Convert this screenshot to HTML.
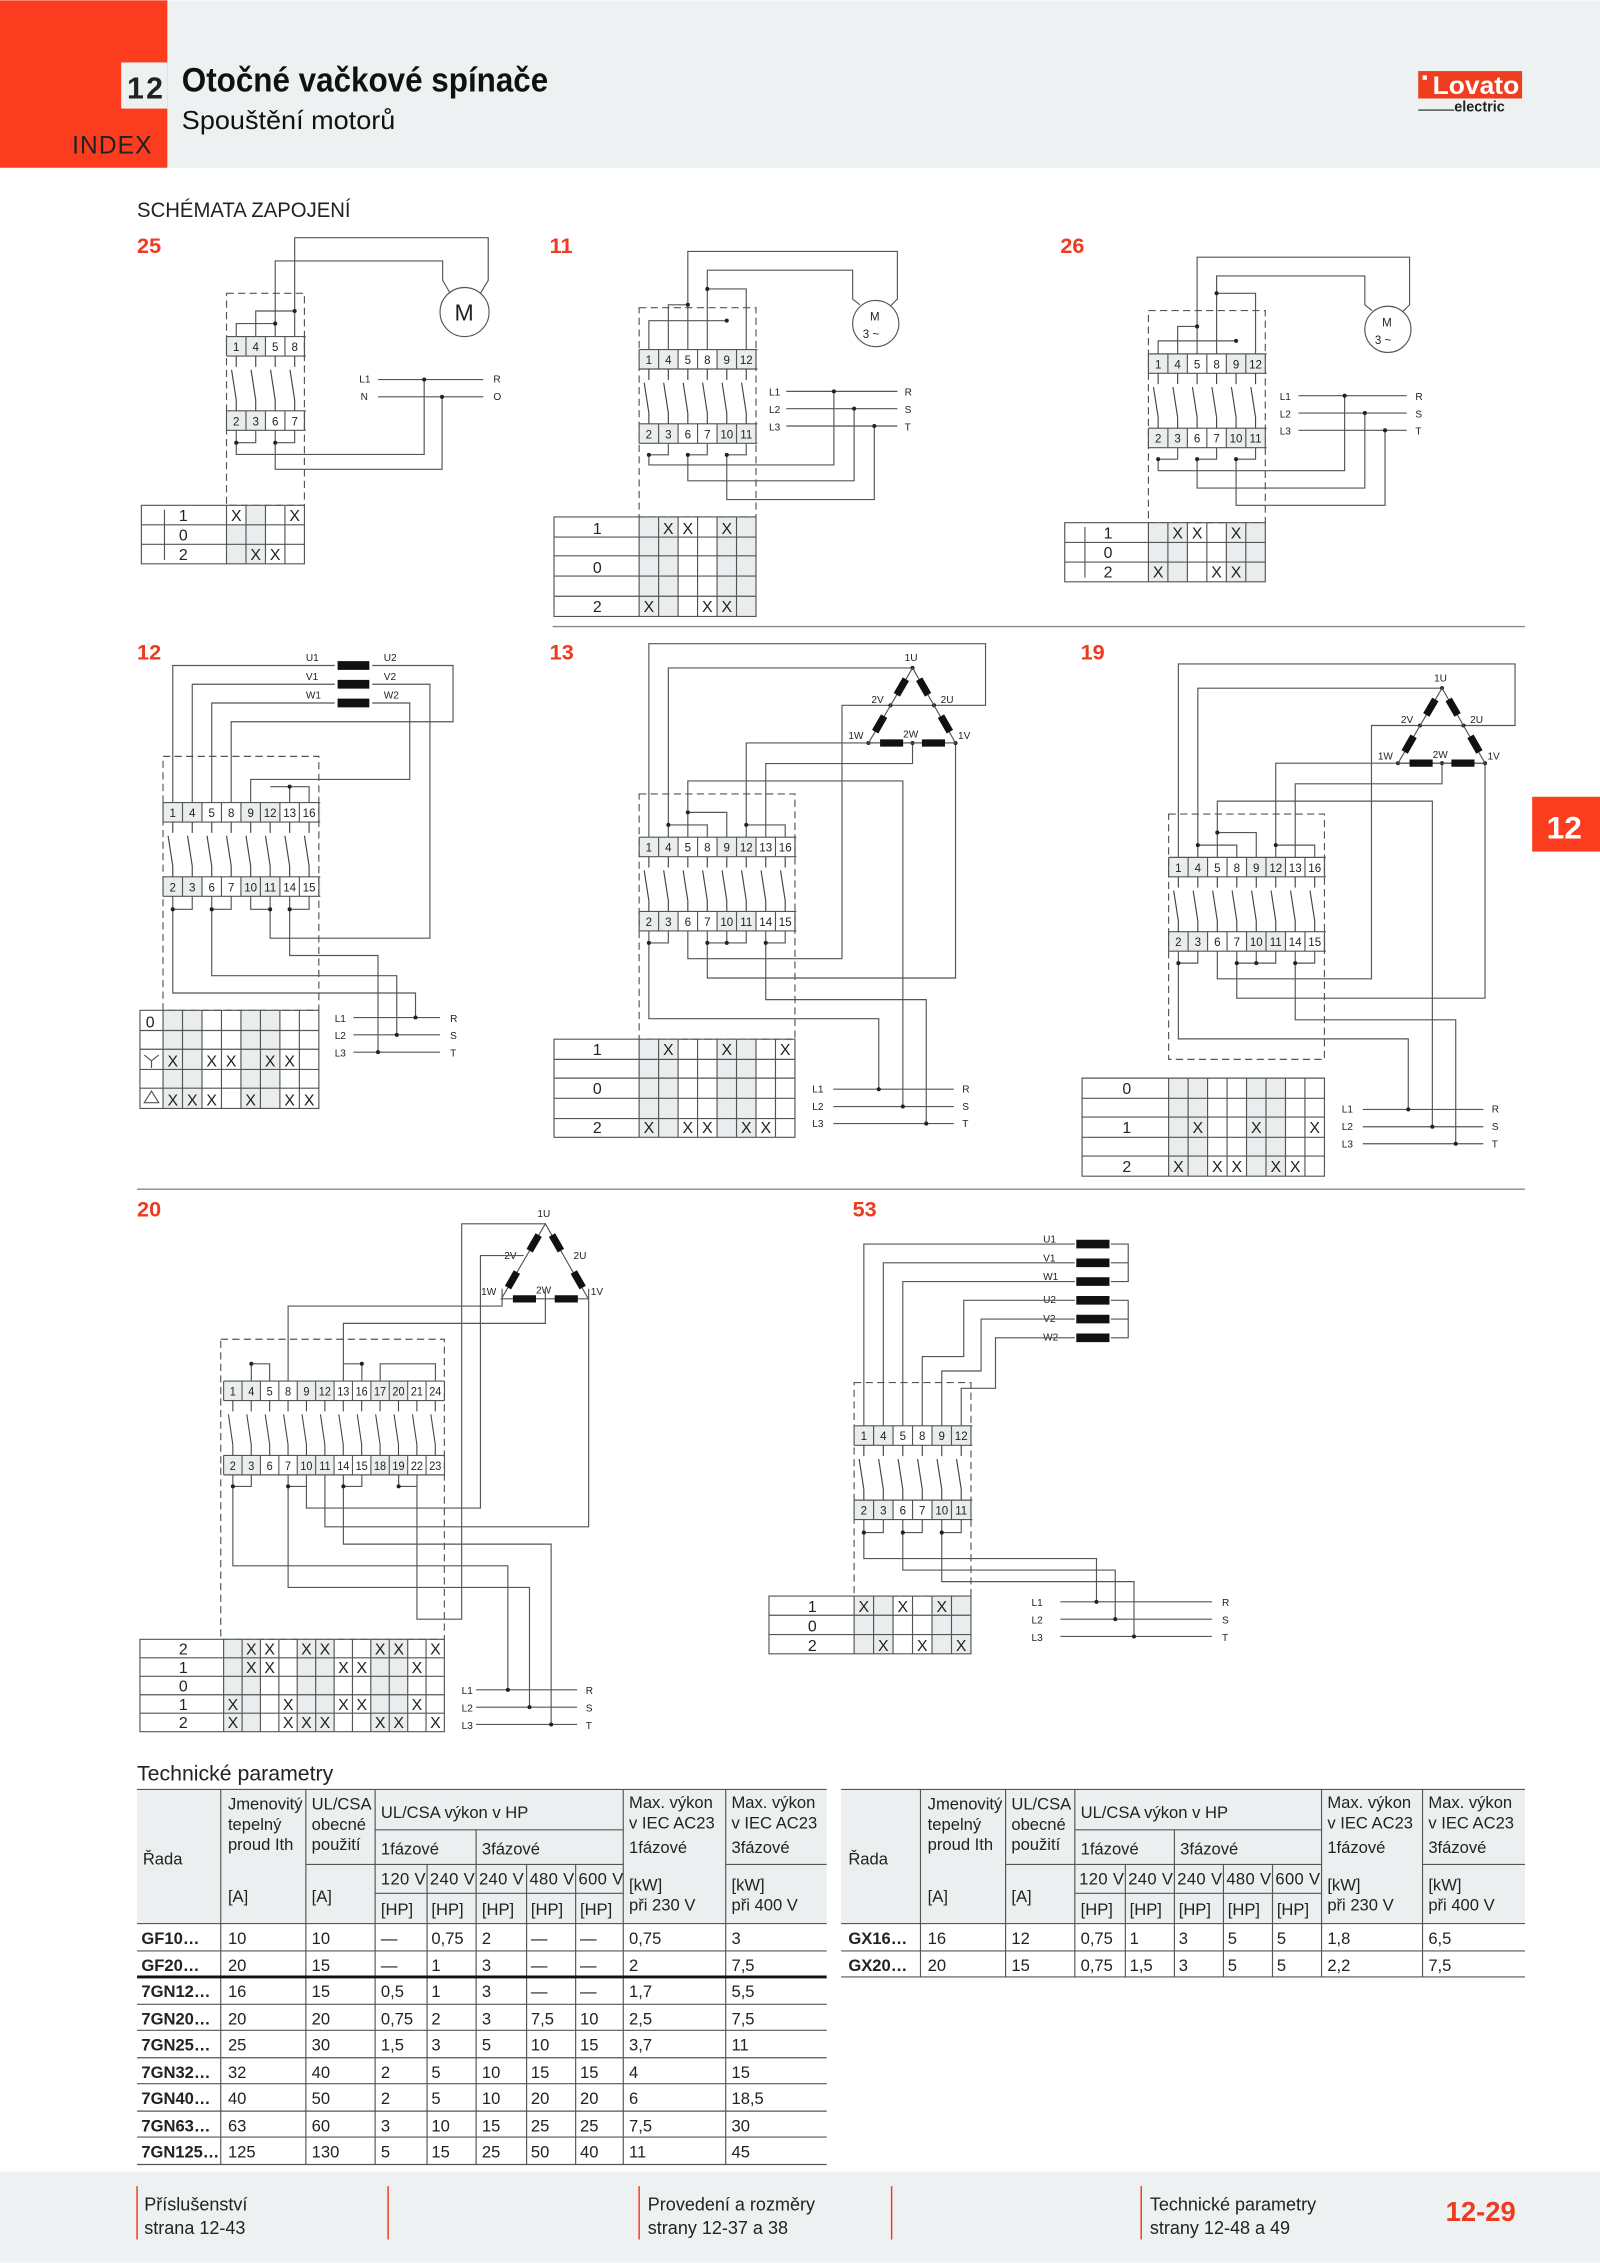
<!DOCTYPE html>
<html><head><meta charset="utf-8">
<style>
html,body{margin:0;padding:0;background:#fff}
svg{display:block}
text{font-family:"Liberation Sans Narrow","Liberation Sans",sans-serif;fill:#222}
.w{fill:none;stroke:#555;stroke-width:0.8}
.d{fill:#222}
.t7{font-size:7px}
.tn{font-size:8px}
.x{font-size:11px}
.lab{font-size:11px}
.r{fill:#ee3a1f;font-weight:bold;font-size:15px}
.tb{font-size:11.5px}
.tbb{font-size:11.5px;font-weight:bold}
.g{fill:#e9edee}
.gl{stroke:#555;stroke-width:0.8;fill:none}
.bar{stroke:#111;stroke-width:5}
</style></head>
<body>
<svg width="1600" height="2263" viewBox="0 0 1109 1568" xmlns="http://www.w3.org/2000/svg">
<defs>
<clipPath id="c4"><rect x="-1" y="-1" width="56" height="67"/></clipPath>
<clipPath id="c6"><rect x="-1" y="-1" width="83" height="67"/></clipPath>
<clipPath id="c8"><rect x="-1" y="-1" width="110" height="67"/></clipPath>
<g id="k" fill="none" stroke="#444" stroke-width="0.8">
<line x1="6.75" y1="13.5" x2="6.75" y2="21"/><line x1="3.5" y1="23" x2="6.75" y2="44"/><line x1="6.75" y1="44" x2="6.75" y2="51.5"/>
</g>
<g id="sw">
<rect x="0" y="0" width="27" height="13.5" class="g"/><rect x="54" y="0" width="27" height="13.5" class="g"/><rect x="108" y="0" width="27" height="13.5" class="g"/>
<rect x="0" y="51.5" width="27" height="13.5" class="g"/><rect x="54" y="51.5" width="27" height="13.5" class="g"/><rect x="108" y="51.5" width="27" height="13.5" class="g"/>
<path d="M0 0H162M0 13.5H162M0 51.5H162M0 65H162" class="gl"/>
<path d="M0 0V13.5M13.5 0V13.5M27 0V13.5M40.5 0V13.5M54 0V13.5M67.5 0V13.5M81 0V13.5M94.5 0V13.5M108 0V13.5M121.5 0V13.5M135 0V13.5M148.5 0V13.5M162 0V13.5M0 51.5V65M13.5 51.5V65M27 51.5V65M40.5 51.5V65M54 51.5V65M67.5 51.5V65M81 51.5V65M94.5 51.5V65M108 51.5V65M121.5 51.5V65M135 51.5V65M148.5 51.5V65M162 51.5V65" class="gl"/>
<use href="#k" x="0"/><use href="#k" x="13.5"/><use href="#k" x="27"/><use href="#k" x="40.5"/><use href="#k" x="54"/><use href="#k" x="67.5"/><use href="#k" x="81"/><use href="#k" x="94.5"/><use href="#k" x="108"/><use href="#k" x="121.5"/><use href="#k" x="135"/><use href="#k" x="148.5"/>
<g class="tn" text-anchor="middle">
<text x="6.75" y="10">1</text><text x="20.25" y="10">4</text><text x="33.75" y="10">5</text><text x="47.25" y="10">8</text><text x="60.75" y="10">9</text><text x="74.25" y="10">12</text><text x="87.75" y="10">13</text><text x="101.25" y="10">16</text><text x="114.75" y="10">17</text><text x="128.25" y="10">20</text><text x="141.75" y="10">21</text><text x="155.25" y="10">24</text>
<text x="6.75" y="61.5">2</text><text x="20.25" y="61.5">3</text><text x="33.75" y="61.5">6</text><text x="47.25" y="61.5">7</text><text x="60.75" y="61.5">10</text><text x="74.25" y="61.5">11</text><text x="87.75" y="61.5">14</text><text x="101.25" y="61.5">15</text><text x="114.75" y="61.5">18</text><text x="128.25" y="61.5">19</text><text x="141.75" y="61.5">22</text><text x="155.25" y="61.5">23</text>
</g>
</g>
<g id="tri">
<path d="M632.5 462.7L602 514.7H662.3Z" class="w"/>
<path d="M627.9 470.5L621.6 481.3M612.8 496.1L606.6 506.9M637.1 470.5L643.3 481.3M652.2 496.1L658.4 506.9M610 514.7H626M639 514.7H655" class="bar"/>
<g class="t7"><text x="627" y="458">1U</text><text x="604" y="487">2V</text><text x="652" y="487">2U</text><text x="588" y="512">1W</text><text x="626" y="511">2W</text><text x="664" y="512">1V</text></g>
</g>
<g id="d13">
<path d="M449.75 580V445.9H683.1V488.6H583.6V664.2H476.75V645M463.25 580V462.7H632.5M517.25 580V514.7H662.3M530.75 580V529H632.5V514.7M476.75 580V541H625.8V766.7M476.75 562.8H503.75V580M463.25 571.5H490.25V580M517.25 571.5H544.25V580M449.75 645V653.3H463.25V645M490.25 645V653.3H517.25V645M503.75 645V653.3M530.75 645V653.3H544.25V645M449.75 653.3V705.8H609.1V754.7M490.25 653.3V677.6H662.3V514.7M530.75 653.3V692.6H642V778.5M577.6 754.7H661.1M577.6 766.7H661.1M577.6 778.5H661.1" class="w"/>
<g class="d"><circle cx="476.75" cy="562.8" r="1.4"/><circle cx="463.25" cy="571.5" r="1.4"/><circle cx="517.25" cy="571.5" r="1.4"/><circle cx="449.75" cy="653.3" r="1.4"/><circle cx="490.25" cy="653.3" r="1.4"/><circle cx="503.75" cy="653.3" r="1.4"/><circle cx="530.75" cy="653.3" r="1.4"/><circle cx="609.1" cy="754.7" r="1.4"/><circle cx="625.8" cy="766.7" r="1.4"/><circle cx="642" cy="778.5" r="1.4"/><circle cx="632.5" cy="462.7" r="1.4"/><circle cx="602" cy="514.7" r="1.4"/><circle cx="662.3" cy="514.7" r="1.4"/><circle cx="632.5" cy="514.7" r="1.4"/><circle cx="617.2" cy="488.6" r="1.4"/><circle cx="647.4" cy="488.6" r="1.4"/></g>
<g class="t7"><text x="563" y="757">L1</text><text x="563" y="769">L2</text><text x="563" y="781">L3</text><text x="667" y="757">R</text><text x="667" y="769">S</text><text x="667" y="781">T</text></g>
<use href="#tri"/>
<g transform="translate(443,580)" clip-path="url(#c8)"><use href="#sw"/></g>
<rect x="443" y="550" width="108" height="170" fill="none" stroke="#555" stroke-width="0.8" stroke-dasharray="5,3"/>
</g>
</defs>

<!-- header -->
<rect x="0" y="0" width="1109" height="116" fill="#eef1f2"/>
<rect x="0" y="0" width="116" height="116" fill="#fc3c1e"/>
<rect x="84" y="43" width="32" height="32" fill="#eef1f2"/>
<text x="88" y="68" style="font-size:21px;font-weight:bold" textLength="25">12</text>
<text x="50" y="106" style="font-size:17px;fill:#222" textLength="55">INDEX</text>
<text x="126" y="63" style="font-size:24px;font-weight:bold;fill:#111" textLength="254" lengthAdjust="spacingAndGlyphs">Otočné vačkové spínače</text>
<text x="126" y="89" style="font-size:18px;fill:#111" textLength="148" lengthAdjust="spacingAndGlyphs">Spouštění motorů</text>
<rect x="983" y="49" width="72" height="19" fill="#ef3e1f"/>
<text x="993" y="65" style="font-size:17px;font-weight:bold;fill:#fff" textLength="60" lengthAdjust="spacingAndGlyphs">Lovato</text>
<rect x="986" y="52" width="3" height="3" fill="#fff"/>
<text x="1008" y="77" style="font-size:10px;font-weight:bold;fill:#222">electric</text>
<line x1="983" y1="76" x2="1008" y2="76" stroke="#222" stroke-width="0.8"/>

<rect x="1062" y="552" width="47" height="38" fill="#fc3c1e"/>
<text x="1072" y="581" style="font-size:22px;fill:#fff;font-weight:bold">12</text>

<text x="95" y="150" style="font-size:15px" textLength="148" lengthAdjust="spacingAndGlyphs">SCHÉMATA ZAPOJENÍ</text>
<line x1="383" y1="434" x2="1057" y2="434" stroke="#888" stroke-width="1"/>
<line x1="95" y1="824" x2="1057" y2="824" stroke="#888" stroke-width="1"/>

<!-- 25 -->
<text x="95" y="175" class="r">25</text>
<rect x="157" y="203" width="54" height="147" fill="none" stroke="#555" stroke-width="0.8" stroke-dasharray="5,3"/>
<g transform="translate(157,233)" clip-path="url(#c4)"><use href="#sw"/></g>
<circle cx="322" cy="216" r="17" fill="#fff" stroke="#555" stroke-width="0.8"/>
<text x="315" y="222" style="font-size:16px">M</text>
<path d="M204.25 233V164.5H338.4V194L333 203M190.75 233V180.6H306.8V194L312 203M163.75 233V224H190.75M177.25 233V215.3H204.25M177.25 298V306.6H163.75M204.25 298V306.6H190.75M163.75 298V314.7H294V262.8M190.75 298V325H306.4V274.8M262 262.8H335M262 274.8H335" class="w"/>
<g class="d"><circle cx="190.75" cy="224" r="1.4"/><circle cx="204.25" cy="215.3" r="1.4"/><circle cx="163.75" cy="306.6" r="1.4"/><circle cx="190.75" cy="306.6" r="1.4"/><circle cx="294" cy="262.8" r="1.4"/><circle cx="306.4" cy="274.8" r="1.4"/></g>
<g class="t7"><text x="249" y="265">L1</text><text x="250" y="277">N</text><text x="342" y="265">R</text><text x="342" y="277">O</text></g>
<rect x="170.5" y="350" width="13.5" height="40.5" class="g"/><rect x="157" y="363.5" width="13.5" height="27" class="g"/>
<path d="M98 350H211V390.5H98ZM98 363.5H211M98 377H211M157 350V390.5M170.5 350V390.5M184 350V390.5M197.5 350V390.5M114 353V388" class="gl"/>
<g class="lab" text-anchor="middle"><text x="127" y="361">1</text><text x="127" y="374.5">0</text><text x="127" y="388">2</text></g>
<g class="x" text-anchor="middle"><text x="163.75" y="361">X</text><text x="204.25" y="361">X</text><text x="177.25" y="388">X</text><text x="190.75" y="388">X</text></g>

<!-- 11 -->
<text x="381" y="175" class="r">11</text>
<rect x="443" y="213" width="81" height="145" fill="none" stroke="#555" stroke-width="0.8" stroke-dasharray="5,3"/>
<g transform="translate(443,242)" clip-path="url(#c6)"><use href="#sw"/></g>
<circle cx="607" cy="224" r="16" fill="#fff" stroke="#555" stroke-width="0.8"/>
<text x="603" y="222" class="tn">M</text><text x="598" y="234" class="tn">3 ~</text>
<path d="M476.75 242V174H622V207L617 212M490.25 242V187H591V207L596 211M463.25 242V211H476.75M449.75 242V222H503.75M517.25 242V200H490.25M463.25 307V315H449.75M490.25 307V315H476.75M517.25 307V315H503.75M449.75 315V322H578V271M476.75 315V333H592V283M503.75 315V346H606V295M545 271H622M545 283H622M545 295H622" class="w"/>
<g class="d"><circle cx="476.75" cy="211" r="1.4"/><circle cx="503.75" cy="222" r="1.4"/><circle cx="490.25" cy="200" r="1.4"/><circle cx="449.75" cy="315" r="1.4"/><circle cx="476.75" cy="315" r="1.4"/><circle cx="503.75" cy="315" r="1.4"/><circle cx="578" cy="271" r="1.4"/><circle cx="592" cy="283" r="1.4"/><circle cx="606" cy="295" r="1.4"/></g>
<g class="t7"><text x="533" y="274">L1</text><text x="533" y="286">L2</text><text x="533" y="298">L3</text><text x="627" y="274">R</text><text x="627" y="286">S</text><text x="627" y="298">T</text></g>
<rect x="443" y="358" width="27" height="69" class="g"/><rect x="497" y="358" width="27" height="69" class="g"/>
<path d="M384 358H524V427H384ZM384 372H524M384 385H524M384 399H524M384 413H524M443 358V427M456.5 358V427M470 358V427M483.5 358V427M497 358V427M510.5 358V427" class="gl"/>
<g class="lab" text-anchor="middle"><text x="414" y="370">1</text><text x="414" y="397">0</text><text x="414" y="424">2</text></g>
<g class="x" text-anchor="middle"><text x="463.25" y="370">X</text><text x="476.75" y="370">X</text><text x="503.75" y="370">X</text><text x="449.75" y="424">X</text><text x="490.25" y="424">X</text><text x="503.75" y="424">X</text></g>

<!-- 26 -->
<text x="735" y="175" class="r">26</text>
<rect x="796" y="215" width="81" height="147" fill="none" stroke="#555" stroke-width="0.8" stroke-dasharray="5,3"/>
<g transform="translate(796,245)" clip-path="url(#c6)"><use href="#sw"/></g>
<circle cx="962" cy="228" r="16" fill="#fff" stroke="#555" stroke-width="0.8"/>
<text x="958" y="226" class="tn">M</text><text x="953" y="238" class="tn">3 ~</text>
<path d="M829.75 245V178H977V211L972 216M843.25 245V191H946V211L951 215M816.25 245V226H829.75M802.75 245V236H856.75M870.25 245V203H843.25M816.25 310V318H802.75M843.25 310V318H829.75M870.25 310V318H856.75M802.75 318V326H932V274M829.75 318V338H946V286M856.75 318V350H960V298M900 274H975M900 286H975M900 298H975" class="w"/>
<g class="d"><circle cx="829.75" cy="226" r="1.4"/><circle cx="856.75" cy="236" r="1.4"/><circle cx="843.25" cy="203" r="1.4"/><circle cx="802.75" cy="318" r="1.4"/><circle cx="829.75" cy="318" r="1.4"/><circle cx="856.75" cy="318" r="1.4"/><circle cx="932" cy="274" r="1.4"/><circle cx="946" cy="286" r="1.4"/><circle cx="960" cy="298" r="1.4"/></g>
<g class="t7"><text x="887" y="277">L1</text><text x="887" y="289">L2</text><text x="887" y="301">L3</text><text x="981" y="277">R</text><text x="981" y="289">S</text><text x="981" y="301">T</text></g>
<rect x="796" y="362" width="27" height="41" class="g"/><rect x="850" y="362" width="27" height="41" class="g"/>
<path d="M738 362H877V403H738ZM738 375.7H877M738 389.3H877M796 362V403M809.5 362V403M823 362V403M836.5 362V403M850 362V403M863.5 362V403M752 365V400" class="gl"/>
<g class="lab" text-anchor="middle"><text x="768" y="373">1</text><text x="768" y="386.5">0</text><text x="768" y="400">2</text></g>
<g class="x" text-anchor="middle"><text x="816.25" y="373">X</text><text x="829.75" y="373">X</text><text x="856.75" y="373">X</text><text x="802.75" y="400">X</text><text x="843.25" y="400">X</text><text x="856.75" y="400">X</text></g>

<!-- 12 -->
<text x="95" y="457" class="r">12</text>
<rect x="113" y="524" width="108" height="176" fill="none" stroke="#555" stroke-width="0.8" stroke-dasharray="5,3"/>
<g transform="translate(113,556)" clip-path="url(#c8)"><use href="#sw"/></g>
<path d="M234 461H256M234 474H256M234 487H256" stroke="#111" stroke-width="6"/>
<g class="t7"><text x="212" y="458">U1</text><text x="212" y="471">V1</text><text x="212" y="484">W1</text><text x="266" y="458">U2</text><text x="266" y="471">V2</text><text x="266" y="484">W2</text></g>
<path d="M232 461H119.75V556M232 474H133.25V556M232 487H146.75V556M258 461H314V500H160.25V556M258 474H298V650H187.25V621M258 487H284V540H173.75V556M200.75 556V545H214.25V556M187.25 545H200.75M119.75 621V630H133.25V621M146.75 621V630H160.25V621M173.75 621V630H187.25M200.75 621V630H214.25V621M119.75 630V688H288V705M146.75 630V676H275V717M200.75 630V662H262V729M245 705H305M245 717H305M245 729H305" class="w"/>
<g class="d"><circle cx="200.75" cy="545" r="1.4"/><circle cx="119.75" cy="630" r="1.4"/><circle cx="146.75" cy="630" r="1.4"/><circle cx="187.25" cy="630" r="1.4"/><circle cx="200.75" cy="630" r="1.4"/><circle cx="288" cy="705" r="1.4"/><circle cx="275" cy="717" r="1.4"/><circle cx="262" cy="729" r="1.4"/></g>
<g class="t7"><text x="232" y="708">L1</text><text x="232" y="720">L2</text><text x="232" y="732">L3</text><text x="312" y="708">R</text><text x="312" y="720">S</text><text x="312" y="732">T</text></g>
<rect x="113" y="700" width="27" height="68" class="g"/><rect x="167" y="700" width="27" height="68" class="g"/>
<path d="M97 700H221V768H97ZM97 714H221M97 727H221M97 741H221M97 754H221M113 700V768M126.5 700V768M140 700V768M153.5 700V768M167 700V768M180.5 700V768M194 700V768M207.5 700V768" class="gl"/>
<text x="101" y="712" class="lab">0</text>
<path d="M100 731L105 735L110 731M105 735V740" class="gl"/>
<path d="M100 764L105 756L110 764Z" class="gl"/>
<g class="x" text-anchor="middle"><text x="119.75" y="739">X</text><text x="146.75" y="739">X</text><text x="160.25" y="739">X</text><text x="187.25" y="739">X</text><text x="200.75" y="739">X</text><text x="119.75" y="766">X</text><text x="133.25" y="766">X</text><text x="146.75" y="766">X</text><text x="173.75" y="766">X</text><text x="200.75" y="766">X</text><text x="214.25" y="766">X</text></g>

<!-- 13 -->
<text x="381" y="457" class="r">13</text>
<use href="#d13"/>
<rect x="443" y="720" width="27" height="68" class="g"/><rect x="497" y="720" width="27" height="68" class="g"/>
<path d="M384 720H551V788H384ZM384 734H551M384 747H551M384 761H551M384 775H551M443 720V788M456.5 720V788M470 720V788M483.5 720V788M497 720V788M510.5 720V788M524 720V788M537.5 720V788" class="gl"/>
<g class="lab" text-anchor="middle"><text x="414" y="731">1</text><text x="414" y="758">0</text><text x="414" y="785">2</text></g>
<g class="x" text-anchor="middle"><text x="463.25" y="731">X</text><text x="503.75" y="731">X</text><text x="544.25" y="731">X</text><text x="449.75" y="785">X</text><text x="476.75" y="785">X</text><text x="490.25" y="785">X</text><text x="517.25" y="785">X</text><text x="530.75" y="785">X</text></g>

<!-- 19 -->
<text x="749" y="457" class="r">19</text>
<use href="#d13" transform="translate(367,14)"/>
<rect x="810" y="747" width="27" height="68" class="g"/><rect x="864" y="747" width="27" height="68" class="g"/>
<path d="M750 747H918V815H750ZM750 761H918M750 774H918M750 788H918M750 801H918M810 747V815M823.5 747V815M837 747V815M850.5 747V815M864 747V815M877.5 747V815M891 747V815M904.5 747V815" class="gl"/>
<g class="lab" text-anchor="middle"><text x="781" y="758">0</text><text x="781" y="785">1</text><text x="781" y="812">2</text></g>
<g class="x" text-anchor="middle"><text x="830.25" y="785">X</text><text x="870.75" y="785">X</text><text x="911.25" y="785">X</text><text x="816.75" y="812">X</text><text x="843.75" y="812">X</text><text x="857.25" y="812">X</text><text x="884.25" y="812">X</text><text x="897.75" y="812">X</text></g>

<!-- 20 -->
<text x="95" y="843" class="r">20</text>
<rect x="153" y="928" width="155" height="208" fill="none" stroke="#555" stroke-width="0.8" stroke-dasharray="5,3"/>
<g transform="translate(155,957) scale(0.945,1)"><use href="#sw"/></g>
<use href="#tri" transform="translate(-254.5,385.3)"/>
<path d="M378 848H320V1122H289V1022M363 870H333V1045H212.4V1022M378 893V917H238V957M408 893V1058H225.2V1022M199.7 957V905H348V893M174.2 957V945H186.9V957M238 957V945H250.8V957M263.5 957V945H301.8V957M161.4 1022V1030H174.2V1022M199.7 1022V1030H212.4M238 1022V1030H250.8V1022M276.3 1022V1030H289M161.4 1030V1085H352V1171M199.7 1030V1100H367V1183M238 1030V1070H382V1195M330 1171H400M330 1183H400M330 1195H400" class="w"/>
<g class="d"><circle cx="174.2" cy="945" r="1.4"/><circle cx="250.8" cy="945" r="1.4"/><circle cx="161.4" cy="1030" r="1.4"/><circle cx="199.7" cy="1030" r="1.4"/><circle cx="238" cy="1030" r="1.4"/><circle cx="276.3" cy="1030" r="1.4"/><circle cx="352" cy="1171" r="1.4"/><circle cx="367" cy="1183" r="1.4"/><circle cx="382" cy="1195" r="1.4"/></g>
<g class="t7"><text x="320" y="1174">L1</text><text x="320" y="1186">L2</text><text x="320" y="1198">L3</text><text x="406" y="1174">R</text><text x="406" y="1186">S</text><text x="406" y="1198">T</text></g>
<rect x="155" y="1136" width="25.5" height="64" class="g"/><rect x="206" y="1136" width="25.5" height="64" class="g"/><rect x="257" y="1136" width="25.5" height="64" class="g"/>
<path d="M97 1136H308V1200H97ZM97 1148.8H308M97 1161.6H308M97 1174.4H308M97 1187.2H308M155 1136V1200M167.8 1136V1200M180.5 1136V1200M193.3 1136V1200M206 1136V1200M218.8 1136V1200M231.6 1136V1200M244.3 1136V1200M257 1136V1200M269.8 1136V1200M282.6 1136V1200M295.3 1136V1200" class="gl"/>
<g class="lab" text-anchor="middle"><text x="127" y="1146.5">2</text><text x="127" y="1159.3">1</text><text x="127" y="1172">0</text><text x="127" y="1184.8">1</text><text x="127" y="1197.6">2</text></g>
<g class="x" text-anchor="middle">
<text x="174.2" y="1146.5">X</text><text x="186.9" y="1146.5">X</text><text x="212.4" y="1146.5">X</text><text x="225.2" y="1146.5">X</text><text x="263.5" y="1146.5">X</text><text x="276.3" y="1146.5">X</text><text x="301.8" y="1146.5">X</text>
<text x="174.2" y="1159.3">X</text><text x="186.9" y="1159.3">X</text><text x="238" y="1159.3">X</text><text x="250.8" y="1159.3">X</text><text x="289" y="1159.3">X</text>
<text x="161.4" y="1184.8">X</text><text x="199.7" y="1184.8">X</text><text x="238" y="1184.8">X</text><text x="250.8" y="1184.8">X</text><text x="289" y="1184.8">X</text>
<text x="161.4" y="1197.6">X</text><text x="199.7" y="1197.6">X</text><text x="212.4" y="1197.6">X</text><text x="225.2" y="1197.6">X</text><text x="263.5" y="1197.6">X</text><text x="276.3" y="1197.6">X</text><text x="301.8" y="1197.6">X</text>
</g>

<!-- 53 -->
<text x="591" y="843" class="r">53</text>
<rect x="592" y="958" width="81" height="148" fill="none" stroke="#555" stroke-width="0.8" stroke-dasharray="5,3"/>
<g transform="translate(592,988)" clip-path="url(#c6)"><use href="#sw"/></g>
<path d="M746 862H769M746 875H769M746 888H769M746 901H769M746 914H769M746 927H769" stroke="#111" stroke-width="6"/>
<g class="t7"><text x="723" y="861">U1</text><text x="723" y="874">V1</text><text x="723" y="887">W1</text><text x="723" y="903">U2</text><text x="723" y="916">V2</text><text x="723" y="929">W2</text></g>
<path d="M770 862H782V888H770M770 875H782M770 901H782V927H770M770 914H782M745 862H598.75V988M745 875H612.25V988M745 888H625.75V988M745 901H668V940H639.25V988M745 914H680V950H652.75V988M745 927H690V962H666.25V988M598.75 1053V1062H612.25V1053M625.75 1053V1062H639.25V1053M652.75 1053V1062H666.25V1053M598.75 1062V1080H760V1110M625.75 1062V1088H773V1122M652.75 1062V1096H786V1134M735 1110H840M735 1122H840M735 1134H840" class="w"/>
<g class="d"><circle cx="598.75" cy="1062" r="1.4"/><circle cx="625.75" cy="1062" r="1.4"/><circle cx="652.75" cy="1062" r="1.4"/><circle cx="760" cy="1110" r="1.4"/><circle cx="773" cy="1122" r="1.4"/><circle cx="786" cy="1134" r="1.4"/></g>
<g class="t7"><text x="715" y="1113">L1</text><text x="715" y="1125">L2</text><text x="715" y="1137">L3</text><text x="847" y="1113">R</text><text x="847" y="1125">S</text><text x="847" y="1137">T</text></g>
<rect x="592" y="1106" width="27" height="40" class="g"/><rect x="646" y="1106" width="27" height="40" class="g"/>
<path d="M533 1106H673V1146H533ZM533 1119.3H673M533 1132.7H673M592 1106V1146M605.5 1106V1146M619 1106V1146M632.5 1106V1146M646 1106V1146M659.5 1106V1146" class="gl"/>
<g class="lab" text-anchor="middle"><text x="563" y="1117">1</text><text x="563" y="1130.5">0</text><text x="563" y="1144">2</text></g>
<g class="x" text-anchor="middle"><text x="598.75" y="1117">X</text><text x="625.75" y="1117">X</text><text x="652.75" y="1117">X</text><text x="612.25" y="1144">X</text><text x="639.25" y="1144">X</text><text x="666.25" y="1144">X</text></g>

<!-- Technical table -->
<text x="95" y="1234" style="font-size:15px" textLength="136" lengthAdjust="spacingAndGlyphs">Technické parametry</text>
<!-- left -->
<rect x="95" y="1240" width="478" height="93" fill="#eceff0"/>
<path d="M95 1240H573M260 1268H432M212 1292H432M503 1292H573M260 1312H432M95 1333H573M95 1352H573M95 1389H573M95 1407H573M95 1426H573M95 1444H573M95 1463H573M95 1481H573M95 1500H573M153 1240V1500M212 1240V1500M260 1240V1500M296 1292V1500M330 1268V1500M365 1292V1500M399 1292V1500M432 1240V1500M503 1240V1500" class="gl"/>
<path d="M95 1370H573" stroke="#111" stroke-width="2"/>
<g class="tb">
<text x="99" y="1292">Řada</text>
<text x="158" y="1254">Jmenovitý</text><text x="158" y="1268">tepelný</text><text x="158" y="1282">proud Ith</text>
<text x="216" y="1254">UL/CSA</text><text x="216" y="1268">obecné</text><text x="216" y="1282">použití</text>
<text x="264" y="1260">UL/CSA výkon v HP</text>
<text x="264" y="1285">1fázové</text><text x="334" y="1285">3fázové</text>
<text x="436" y="1253">Max. výkon</text><text x="436" y="1267">v IEC AC23</text><text x="436" y="1284">1fázové</text>
<text x="507" y="1253">Max. výkon</text><text x="507" y="1267">v IEC AC23</text><text x="507" y="1284">3fázové</text>
<text x="158" y="1318">[A]</text><text x="216" y="1318">[A]</text>
<text x="264" y="1306" textLength="31">120 V</text><text x="298" y="1306" textLength="31">240 V</text><text x="332" y="1306" textLength="31">240 V</text><text x="367" y="1306" textLength="31">480 V</text><text x="401" y="1306" textLength="31">600 V</text>
<text x="264" y="1327">[HP]</text><text x="299" y="1327">[HP]</text><text x="334" y="1327">[HP]</text><text x="368" y="1327">[HP]</text><text x="402" y="1327">[HP]</text>
<text x="436" y="1310">[kW]</text><text x="436" y="1324">při 230 V</text><text x="507" y="1310">[kW]</text><text x="507" y="1324">při 400 V</text>
</g>
<g class="tb">
<text x="158" y="1347">10</text><text x="216" y="1347">10</text><text x="264" y="1347">—</text><text x="299" y="1347">0,75</text><text x="334" y="1347">2</text><text x="368" y="1347">—</text><text x="402" y="1347">—</text><text x="436" y="1347">0,75</text><text x="507" y="1347">3</text>
<text x="158" y="1366">20</text><text x="216" y="1366">15</text><text x="264" y="1366">—</text><text x="299" y="1366">1</text><text x="334" y="1366">3</text><text x="368" y="1366">—</text><text x="402" y="1366">—</text><text x="436" y="1366">2</text><text x="507" y="1366">7,5</text>
<text x="158" y="1384">16</text><text x="216" y="1384">15</text><text x="264" y="1384">0,5</text><text x="299" y="1384">1</text><text x="334" y="1384">3</text><text x="368" y="1384">—</text><text x="402" y="1384">—</text><text x="436" y="1384">1,7</text><text x="507" y="1384">5,5</text>
<text x="158" y="1403">20</text><text x="216" y="1403">20</text><text x="264" y="1403">0,75</text><text x="299" y="1403">2</text><text x="334" y="1403">3</text><text x="368" y="1403">7,5</text><text x="402" y="1403">10</text><text x="436" y="1403">2,5</text><text x="507" y="1403">7,5</text>
<text x="158" y="1421">25</text><text x="216" y="1421">30</text><text x="264" y="1421">1,5</text><text x="299" y="1421">3</text><text x="334" y="1421">5</text><text x="368" y="1421">10</text><text x="402" y="1421">15</text><text x="436" y="1421">3,7</text><text x="507" y="1421">11</text>
<text x="158" y="1440">32</text><text x="216" y="1440">40</text><text x="264" y="1440">2</text><text x="299" y="1440">5</text><text x="334" y="1440">10</text><text x="368" y="1440">15</text><text x="402" y="1440">15</text><text x="436" y="1440">4</text><text x="507" y="1440">15</text>
<text x="158" y="1458">40</text><text x="216" y="1458">50</text><text x="264" y="1458">2</text><text x="299" y="1458">5</text><text x="334" y="1458">10</text><text x="368" y="1458">20</text><text x="402" y="1458">20</text><text x="436" y="1458">6</text><text x="507" y="1458">18,5</text>
<text x="158" y="1477">63</text><text x="216" y="1477">60</text><text x="264" y="1477">3</text><text x="299" y="1477">10</text><text x="334" y="1477">15</text><text x="368" y="1477">25</text><text x="402" y="1477">25</text><text x="436" y="1477">7,5</text><text x="507" y="1477">30</text>
<text x="158" y="1495">125</text><text x="216" y="1495">130</text><text x="264" y="1495">5</text><text x="299" y="1495">15</text><text x="334" y="1495">25</text><text x="368" y="1495">50</text><text x="402" y="1495">40</text><text x="436" y="1495">11</text><text x="507" y="1495">45</text>
</g>
<g class="tbb">
<text x="98" y="1347">GF10…</text><text x="98" y="1366">GF20…</text><text x="98" y="1384">7GN12…</text><text x="98" y="1403">7GN20…</text><text x="98" y="1421">7GN25…</text><text x="98" y="1440">7GN32…</text><text x="98" y="1458">7GN40…</text><text x="98" y="1477">7GN63…</text><text x="98" y="1495" textLength="54" lengthAdjust="spacingAndGlyphs">7GN125…</text>
</g>
<!-- right -->
<rect x="583" y="1240" width="474" height="93" fill="#eceff0"/>
<path d="M583 1240H1057M745 1268H916M697 1292H916M986 1292H1057M745 1312H916M583 1333H1057M583 1352H1057M583 1370H1057M638 1240V1370M697 1240V1370M745 1240V1370M780 1292V1370M814 1268V1370M848 1292V1370M882 1292V1370M916 1240V1370M986 1240V1370" class="gl"/>
<g class="tb">
<text x="588" y="1292">Řada</text>
<text x="643" y="1254">Jmenovitý</text><text x="643" y="1268">tepelný</text><text x="643" y="1282">proud Ith</text>
<text x="701" y="1254">UL/CSA</text><text x="701" y="1268">obecné</text><text x="701" y="1282">použití</text>
<text x="749" y="1260">UL/CSA výkon v HP</text>
<text x="749" y="1285">1fázové</text><text x="818" y="1285">3fázové</text>
<text x="920" y="1253">Max. výkon</text><text x="920" y="1267">v IEC AC23</text><text x="920" y="1284">1fázové</text>
<text x="990" y="1253">Max. výkon</text><text x="990" y="1267">v IEC AC23</text><text x="990" y="1284">3fázové</text>
<text x="643" y="1318">[A]</text><text x="701" y="1318">[A]</text>
<text x="748" y="1306" textLength="31">120 V</text><text x="782" y="1306" textLength="31">240 V</text><text x="816" y="1306" textLength="31">240 V</text><text x="850" y="1306" textLength="31">480 V</text><text x="884" y="1306" textLength="31">600 V</text>
<text x="749" y="1327">[HP]</text><text x="783" y="1327">[HP]</text><text x="817" y="1327">[HP]</text><text x="851" y="1327">[HP]</text><text x="885" y="1327">[HP]</text>
<text x="920" y="1310">[kW]</text><text x="920" y="1324">při 230 V</text><text x="990" y="1310">[kW]</text><text x="990" y="1324">při 400 V</text>
<text x="643" y="1347">16</text><text x="701" y="1347">12</text><text x="749" y="1347">0,75</text><text x="783" y="1347">1</text><text x="817" y="1347">3</text><text x="851" y="1347">5</text><text x="885" y="1347">5</text><text x="920" y="1347">1,8</text><text x="990" y="1347">6,5</text>
<text x="643" y="1366">20</text><text x="701" y="1366">15</text><text x="749" y="1366">0,75</text><text x="783" y="1366">1,5</text><text x="817" y="1366">3</text><text x="851" y="1366">5</text><text x="885" y="1366">5</text><text x="920" y="1366">2,2</text><text x="990" y="1366">7,5</text>
</g>
<g class="tbb"><text x="588" y="1347">GX16…</text><text x="588" y="1366">GX20…</text></g>

<!-- footer -->
<rect x="0" y="1505" width="1109" height="63" fill="#eef1f2"/>
<path d="M95 1515V1552M269 1515V1552M443 1515V1552M618 1515V1552M791 1515V1552" stroke="#ee3a1f" stroke-width="1"/>
<g style="font-size:12.5px">
<text x="100" y="1532">Příslušenství</text><text x="100" y="1548">strana 12-43</text>
<text x="449" y="1532">Provedení a rozměry</text><text x="449" y="1548">strany 12-37 a 38</text>
<text x="797" y="1532">Technické parametry</text><text x="797" y="1548">strany 12-48 a 49</text>
</g>
<text x="1002" y="1539" style="font-size:19px;font-weight:bold;fill:#ee3a1f">12-29</text>
</svg>
</body></html>
